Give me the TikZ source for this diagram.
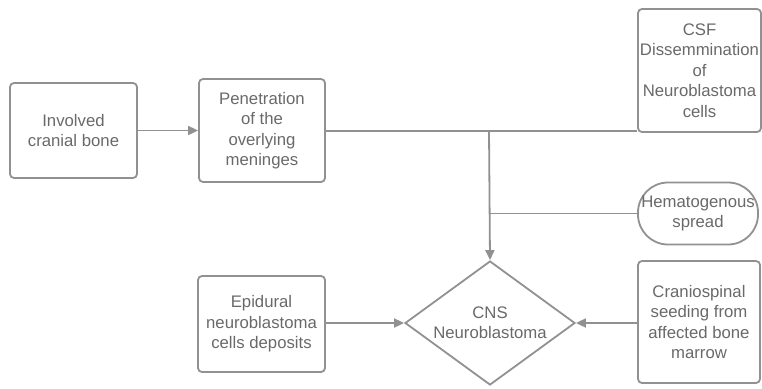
\documentclass[tikz,border=0pt]{standalone}
\usepackage{fontspec}
\setmainfont{Liberation Sans}
\usetikzlibrary{arrows.meta,shapes.geometric}
\definecolor{strokegray}{RGB}{145,145,145}
\definecolor{textgray}{RGB}{105,105,105}
\tikzset{
  base/.style={draw=strokegray, line width=1.8bp, text=textgray, align=center,
    font=\fontsize{16.8}{20.5}\selectfont, inner sep=0pt},
  box/.style={base, rectangle, rounded corners=4bp},
  pill/.style={base, rectangle, rounded corners=30bp},
  decision/.style={base, diamond, shape aspect=1.37, minimum width=170bp, minimum height=124bp},
  conn/.style={draw=strokegray, line width=1.8bp},
  arr/.style={conn, -{Triangle[length=10bp,width=9bp]}}
}
\begin{document}
\begin{tikzpicture}[x=1bp,y=-1bp]
\useasboundingbox (0,0) rectangle (762,388);
\node[box, minimum width=127bp, minimum height=95bp] (inv) at (73.5,130.5) {Involved\\cranial bone};
\node[box, minimum width=126bp, minimum height=103bp] (pen) at (262,130.5) {Penetration\\of the\\overlying\\meninges};
\node[box, minimum width=123bp, minimum height=123bp] (csf) at (699.5,70.5) {CSF\\Dissemmination\\of\\Neuroblastoma\\cells};
\node[pill, minimum width=120bp, minimum height=62bp] (hem) at (698,213.5) {Hematogenous\\spread};
\node[box, minimum width=127bp, minimum height=96bp] (epi) at (261.5,324) {Epidural\\neuroblastoma\\cells deposits};
\node[box, minimum width=122bp, minimum height=122bp] (cra) at (699,322) {Craniospinal\\seeding from\\affected bone\\marrow};
\node[decision] (cns) at (490,323) {CNS\\Neuroblastoma};
\coordinate (j1) at (489,131);
\coordinate (j2) at (489,213.5);
\coordinate (c1) at (csf.west |- j1);
\draw[arr] (inv.east) -- (pen.east -| pen.west);
\draw[conn] (pen.east |- j1) -- (c1);
\draw[arr] (j1) -- (cns.north);
\draw[conn] (hem.west) -- (j2);
\draw[arr] (epi.east |- cns.west) -- (cns.west);
\draw[arr] (cra.west |- cns.east) -- (cns.east);
\end{tikzpicture}
\end{document}
